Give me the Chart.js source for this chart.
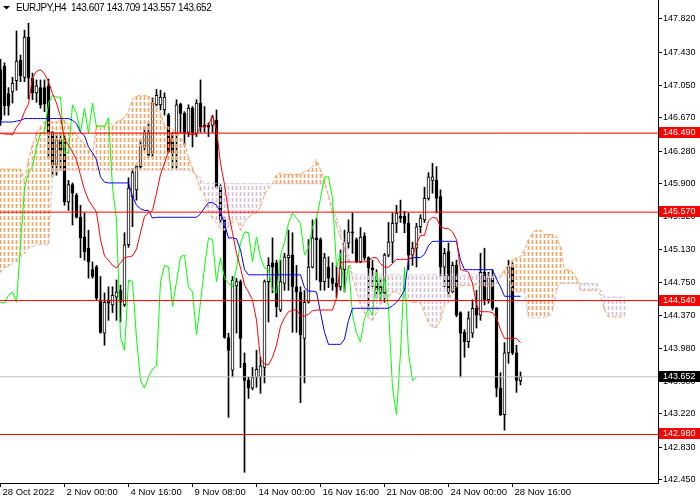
<!DOCTYPE html>
<html><head><meta charset="utf-8">
<style>html,body{margin:0;padding:0;background:#fff;overflow:hidden}canvas{display:block}</style>
<script src="https://cdn.jsdelivr.net/npm/chart.js@4.4.1/dist/chart.umd.min.js"></script>
</head><body>
<canvas id="c" width="700" height="500"></canvas>
<script>
const symbolTitle = "EURJPY,H4";
const openP = [147.23,147.27,146.95,146.97,147.10,147.34,147.14,147.61,147.13,146.96,
147.02,147.02,147.04,146.50,146.12,146.41,146.43,145.69,145.89,145.77,
145.51,145.28,145.15,144.90,144.93,144.55,144.16,144.55,144.49,144.58,
144.66,144.49,145.19,145.75,145.83,146.10,146.33,146.24,146.26,146.82,
146.82,146.76,146.70,146.39,146.49,146.83,146.72,146.50,146.78,146.49,
146.84,146.56,146.58,146.58,146.64,145.86,145.48,144.11,143.73,144.71,
144.76,143.81,143.61,143.52,143.65,143.65,143.76,144.76,144.98,144.98,
144.43,144.74,145.04,145.07,144.70,144.64,144.10,144.52,144.93,145.27,
145.25,144.76,144.93,144.80,144.74,144.70,144.90,145.21,145.34,145.25,
144.99,145.29,145.04,144.92,144.82,144.70,144.63,145.07,145.22,145.44,
145.52,145.52,145.44,145.07,145.15,145.40,145.48,145.73,145.94,145.94,
145.75,144.93,145.11,144.64,144.95,144.40,144.17,144.06,144.16,144.45,
144.37,144.87,144.55,144.80,144.45,143.52,143.21,143.93,144.93,143.93,
143.607];
const highP = [147.35,147.31,147.02,147.14,147.68,147.40,147.69,147.77,147.19,147.11,
147.11,147.11,147.12,146.51,146.50,146.50,146.47,145.94,145.91,145.79,
145.65,145.56,145.36,144.99,144.95,144.82,144.63,144.70,144.70,144.78,
144.72,145.33,145.97,146.08,146.12,146.41,146.56,146.61,146.90,147.00,
146.99,146.96,146.72,146.49,146.88,146.84,146.74,146.82,146.80,146.88,
147.11,146.80,146.61,146.70,146.76,145.89,145.51,144.16,144.82,144.80,
144.78,143.93,143.65,143.76,143.96,143.88,144.78,145.04,145.27,145.01,
145.01,145.09,145.36,145.33,144.95,144.70,144.66,145.25,145.48,145.50,
145.27,145.09,145.05,144.98,144.95,145.13,145.36,145.48,145.56,145.27,
145.39,145.33,145.05,145.01,144.90,144.80,145.09,145.45,145.56,145.65,
145.71,145.58,145.56,145.22,145.44,145.54,145.86,146.03,146.14,146.10,
145.83,145.15,145.21,144.99,145.01,144.41,144.20,144.41,144.55,144.66,
145.09,145.15,144.87,144.90,144.46,143.70,144.05,145.01,144.98,144.02,
143.709];
const lowP = [146.58,146.70,146.70,146.84,146.99,147.09,147.09,146.89,146.88,146.85,
146.78,146.74,146.20,145.98,146.00,146.06,145.65,145.59,145.42,145.50,
145.04,145.01,144.80,144.80,144.55,144.16,144.02,144.31,144.40,144.31,
144.29,144.47,145.16,145.40,145.71,146.08,146.29,146.21,146.21,146.81,
146.76,146.70,146.26,146.08,146.08,146.50,146.35,146.45,146.33,146.45,
146.50,146.50,146.45,146.50,145.85,145.44,144.10,143.18,143.65,144.16,
143.76,142.54,143.40,143.50,143.53,143.46,143.58,144.29,144.63,144.35,
144.41,144.66,144.66,144.17,144.17,143.35,143.58,144.51,144.92,144.78,
144.66,144.66,144.69,144.66,144.58,144.66,144.64,145.15,145.09,144.98,
144.98,145.01,144.43,144.70,144.57,144.52,144.52,145.05,144.98,145.33,
145.45,145.33,144.90,144.95,144.93,145.33,145.45,145.71,145.79,145.56,
144.82,144.70,144.58,144.63,144.35,143.65,143.88,143.99,144.11,144.22,
144.31,144.49,144.51,144.43,143.42,143.20,143.03,143.81,143.91,143.47,
143.557];
const closeP = [146.64,146.81,146.81,147.07,147.33,147.16,147.61,147.13,146.96,147.04,
146.82,146.83,146.50,146.12,146.41,146.29,145.69,145.89,145.79,145.51,
145.27,145.11,144.99,144.82,144.57,144.17,144.52,144.51,144.60,144.64,
144.52,145.19,145.85,146.03,146.10,146.33,146.49,146.50,146.84,146.93,
146.91,146.91,146.27,146.26,146.82,146.72,146.50,146.78,146.49,146.84,
146.56,146.58,146.56,146.67,145.86,145.48,144.11,143.96,144.78,144.76,
144.10,143.61,143.52,143.65,143.74,143.78,144.76,144.95,144.93,144.47,
144.76,145.05,145.07,144.70,144.64,144.14,144.52,144.93,145.27,145.25,
144.76,145.04,144.80,144.74,144.70,144.92,145.21,145.34,145.33,144.99,
145.28,145.04,144.92,144.90,144.66,144.63,145.07,145.22,145.44,145.56,
145.50,145.44,145.07,145.15,145.40,145.50,145.73,145.98,145.98,145.73,
144.93,145.09,144.64,144.95,144.37,144.16,144.06,144.33,144.45,144.37,
144.87,144.55,144.80,144.45,143.52,143.21,143.93,144.93,143.93,143.61,
143.652];
const tenkan = [146.49,146.48,146.48,146.47,146.56,146.62,146.74,146.83,147.14,147.21,
147.23,147.18,147.09,146.95,146.84,146.68,146.42,146.35,146.27,146.18,
146.00,145.83,145.71,145.64,145.57,145.25,145.06,145.01,144.95,144.92,
144.98,145.04,145.05,145.06,145.14,145.33,145.52,145.56,145.59,145.79,
146.01,146.14,146.28,146.50,146.49,146.49,146.49,146.48,146.47,146.48,
146.56,146.57,146.58,146.70,146.53,146.14,145.89,145.56,145.33,145.09,
144.92,144.72,144.64,144.55,144.31,143.85,143.80,143.79,143.88,144.02,
144.24,144.34,144.41,144.43,144.43,144.36,144.36,144.38,144.42,144.43,
144.43,144.43,144.43,144.43,144.57,144.98,144.99,144.99,144.99,144.99,
144.99,144.99,145.00,145.04,145.04,144.97,144.93,144.93,144.97,145.02,
145.02,145.02,145.02,145.05,145.20,145.30,145.30,145.47,145.51,145.50,
145.40,145.38,145.38,145.34,145.25,144.90,144.89,144.87,144.74,144.49,
144.41,144.41,144.41,144.40,144.34,144.20,144.10,144.10,144.10,144.10,
144.05];
const kijun = [146.62,146.62,146.62,146.62,146.63,146.64,146.66,146.66,146.66,146.66,
146.66,146.66,146.66,146.66,146.66,146.66,146.66,146.66,146.64,146.60,
146.50,146.46,146.33,146.26,146.18,145.98,145.92,145.91,145.91,145.91,
145.91,145.91,145.91,145.76,145.65,145.61,145.59,145.59,145.50,145.51,
145.51,145.51,145.51,145.51,145.51,145.51,145.51,145.51,145.51,145.51,
145.55,145.62,145.68,145.68,145.65,145.57,145.43,145.27,145.27,145.26,
145.13,144.90,144.84,144.84,144.84,144.84,144.84,144.84,144.84,144.84,
144.84,144.84,144.84,144.84,144.84,144.84,144.69,144.65,144.65,144.64,
144.40,144.17,144.03,144.03,144.03,144.03,144.09,144.31,144.45,144.45,
144.45,144.45,144.45,144.45,144.45,144.45,144.45,144.45,144.48,144.52,
144.58,144.66,145.02,145.04,145.04,145.04,145.08,145.18,145.23,145.23,
145.23,145.23,145.23,145.23,145.23,145.01,144.90,144.90,144.90,144.90,
144.90,144.90,144.90,144.90,144.79,144.70,144.59,144.59,144.59,144.59,
144.59];
const spanA = [146.07,146.07,146.07,146.07,146.07,146.07,145.92,146.18,146.35,146.49,
146.56,146.62,146.62,146.62,146.62,146.64,146.64,146.58,146.53,146.47,
146.41,146.37,146.29,146.23,146.58,146.56,146.58,146.61,146.58,146.62,
146.64,146.67,146.74,146.88,146.92,146.93,146.93,146.92,146.88,146.79,
146.72,146.58,146.56,146.53,146.50,146.44,146.37,146.21,146.08,145.97,
145.83,145.77,145.59,145.50,145.45,145.38,145.36,145.40,145.45,145.50,
145.36,145.45,145.51,145.55,145.56,145.63,145.77,145.85,145.90,146.00,
146.03,146.01,146.01,146.01,146.01,146.01,146.04,146.06,146.10,146.18,
146.06,145.94,145.75,145.56,145.42,145.28,145.13,144.99,144.80,144.66,
144.49,144.40,144.34,144.31,144.40,144.49,144.55,144.58,144.64,144.64,
144.61,144.57,144.54,144.52,144.52,144.51,144.40,144.28,144.23,144.23,
144.31,144.49,144.52,144.66,144.70,144.71,144.72,144.72,144.72,144.73,
144.72,144.71,144.70,144.71,144.74,144.82,144.90,144.95,145.01,145.04,
145.05,145.13,145.25,145.33,145.36,145.36,145.31,145.31,145.31,145.28,
145.16,144.90,144.90,144.87,144.80,144.66,144.66,144.66,144.66,144.66,
144.61,144.43,144.35,144.35,144.35,144.35,144.35];
const spanB = [144.87,144.92,144.94,144.97,144.99,145.04,145.09,145.15,145.17,145.19,
145.19,145.19,145.19,145.98,146.04,146.06,146.06,146.06,146.06,146.06,
146.06,146.06,146.06,146.06,146.06,146.06,146.06,146.06,146.06,146.06,
146.06,146.06,146.06,146.06,146.06,146.06,146.06,146.06,146.06,146.06,
146.06,146.06,146.06,146.06,146.06,146.06,146.06,146.06,146.04,146.00,
145.97,145.90,145.90,145.90,145.90,145.90,145.90,145.90,145.90,145.90,
145.90,145.90,145.90,145.90,145.90,145.90,145.90,145.90,145.90,145.90,
145.90,145.90,145.90,145.90,145.90,145.90,145.90,145.90,145.90,145.90,
145.90,145.90,145.77,145.63,145.50,145.38,145.22,145.07,144.84,144.84,
144.84,144.84,144.84,144.84,144.84,144.84,144.84,144.84,144.84,144.84,
144.84,144.84,144.84,144.84,144.84,144.84,144.84,144.84,144.84,144.84,
144.84,144.84,144.84,144.84,144.84,144.84,144.84,144.84,144.84,144.84,
144.84,144.84,144.84,144.84,144.84,144.84,144.83,144.83,144.66,144.64,
144.64,144.64,144.34,144.34,144.34,144.34,144.35,144.35,144.41,144.66,
144.74,144.74,144.74,144.74,144.74,144.74,144.74,144.74,144.74,144.74,
144.66,144.58,144.58,144.58,144.58,144.58,144.58];
const chikouShift = 26;
const levels = [146.490, 145.570, 144.540, 142.980];
const bidPrice = 143.652;
const yTicks = [142.450,142.830,143.220,143.600,143.980,144.370,144.750,145.130,145.520,145.900,146.280,146.670,147.050,147.430,147.820];
const xTickPos = [0,16,32,48,64,80,96,112,128];
const xTickLabels = ["28 Oct 2022","2 Nov 00:00","4 Nov 16:00","9 Nov 08:00","14 Nov 00:00","16 Nov 16:00","21 Nov 08:00","24 Nov 00:00","28 Nov 16:00"];

const X_MIN = -0.125, X_MAX = 164.375;
const Y_MIN = 142.415, Y_MAX = 148.041;
const FONT = '"Liberation Sans", Arial, sans-serif';

const canvas = document.getElementById('c');
const mainCtx = canvas.getContext('2d');
function makeDash(color){
  const c = document.createElement('canvas'); c.width = 1; c.height = 6;
  const g = c.getContext('2d'); g.fillStyle = color; g.fillRect(0,0,1,4);
  return mainCtx.createPattern(c, 'repeat');
}
const orangeDash = makeDash('#f4a460');
const thistleDash = makeDash('#d8bfd8');

const wickData = lowP.map((l,i)=>({x:i, y:[l, highP[i]]}));
const bodyData = openP.map((o,i)=>({x:i, y:[o, closeP[i]]}));
const cloudData = spanA.map((a,i)=>({x:i, y:[a, spanB[i]]}));
const chikouData = closeP.slice(chikouShift).map((c,i)=>({x:i, y:c}));
const tenkanData = tenkan.map((v,i)=>({x:i,y:v}));
const kijunData = kijun.map((v,i)=>({x:i,y:v}));
const spanAData = spanA.map((v,i)=>({x:i,y:v}));
const spanBData = spanB.map((v,i)=>({x:i,y:v}));

function hLine(v, color){
  return {type:'line', data:[{x:X_MIN,y:v},{x:X_MAX,y:v}], borderColor:color, borderWidth:1, pointRadius:0, order:0};
}
function ln(data, color, dash, order){
  return {type:'line', data, borderColor:color, borderWidth:1, pointRadius:0, tension:0, borderDash:dash||[], order};
}

const overlay = {
  id:'overlay',
  afterDraw(chart){
    const ctx = chart.ctx, ys = chart.scales.y, area = chart.chartArea;
    ctx.save();
    ctx.font = '9px ' + FONT;
    ctx.textBaseline = 'middle';
    ctx.textAlign = 'left';
    const box = (v, bg) => {
      const y = Math.round(ys.getPixelForValue(v));
      ctx.fillStyle = bg; ctx.fillRect(area.right + 1, y - 6, 42, 11);
      ctx.fillStyle = '#ffffff'; ctx.fillText(v.toFixed(3), area.right + 5, y);
    };
    levels.forEach(v => box(v, '#ff0000'));
    box(bidPrice, '#000000');
    ctx.fillStyle = '#000';
    ctx.beginPath(); ctx.moveTo(3,6); ctx.lineTo(10,6); ctx.lineTo(6.5,9.5); ctx.closePath(); ctx.fill();
    ctx.font = '10px ' + FONT;
    try { ctx.letterSpacing = '-0.4px'; } catch(e) {}
    ctx.textBaseline = 'alphabetic';
    const n = closeP.length - 1;
    const t = symbolTitle + '  ' + openP[n].toFixed(3) + ' ' + highP[n].toFixed(3) + ' ' + lowP[n].toFixed(3) + ' ' + closeP[n].toFixed(3);
    ctx.fillText(t, 16, 11);
    ctx.restore();
  }
};

new Chart(canvas, {
  type: 'bar',
  data: {
    datasets: [
      ...levels.map(v => hLine(v, '#ff0000')),
      hLine(bidPrice, '#c0c0c0'),
      ln(tenkanData, '#ff0000', null, 1),
      ln(kijunData, '#0000ff', null, 1),
      ln(chikouData, '#00ff00', null, 1),
      ln(spanAData, '#f4a460', [4,2], 2),
      ln(spanBData, '#d8bfd8', [4,2], 2),
      {type:'bar', data: cloudData, grouped:false, barThickness:1, maxBarThickness:1, borderWidth:0,
        backgroundColor: (c) => { const i = c.dataIndex; if (i === undefined) return orangeDash; return spanA[i] >= spanB[i] ? orangeDash : thistleDash; }, order:3},
      {type:'bar', data: bodyData, grouped:false, barThickness:3, maxBarThickness:3, borderWidth:1, borderSkipped:false, borderColor:'#000', minBarLength:1,
        backgroundColor: (c) => { const i = c.dataIndex; if (i === undefined) return '#000'; return closeP[i] >= openP[i] ? '#ffffff' : '#000000'; }, order:4},
      {type:'bar', data: wickData, grouped:false, barThickness:1, maxBarThickness:1, borderWidth:0, backgroundColor:'#000', order:5}
    ]
  },
  options: {
    responsive:false, animation:false, events:[],
    layout:{padding:0},
    plugins:{legend:{display:false}, tooltip:{enabled:false}},
    scales:{
      x:{type:'linear', position:'bottom', min:X_MIN, max:X_MAX, bounds:'data', offset:false,
        grid:{display:true, drawOnChartArea:false, drawTicks:true, tickLength:4, color:'#000', offset:false},
        border:{display:true, color:'#000', width:1},
        ticks:{autoSkip:false, maxRotation:0, minRotation:0, align:'start', labelOffset:2, padding:0, color:'#000', font:{family:FONT, size:9.5},
          callback:(v)=>{ const k = xTickPos.indexOf(v); return k >= 0 ? xTickLabels[k] : ''; }},
        afterBuildTicks:(s)=>{ s.ticks = xTickPos.map(v=>({value:v})); },
        afterFit:(s)=>{ s.height = 17; s.paddingLeft = 0; s.paddingRight = 0; }
      },
      y:{type:'linear', position:'right', min:Y_MIN, max:Y_MAX, bounds:'data',
        grid:{display:true, drawOnChartArea:false, drawTicks:true, tickLength:4, color:'#000'},
        border:{display:true, color:'#000', width:1},
        ticks:{autoSkip:false, padding:1, color:'#000', font:{family:FONT, size:9}, callback:(v)=>Number(v).toFixed(3)},
        afterBuildTicks:(s)=>{ s.ticks = yTicks.map(v=>({value:v})); },
        afterFit:(s)=>{ s.width = 42; s.paddingTop = 0; s.paddingBottom = 0; }
      }
    }
  },
  plugins:[overlay]
});
</script>
</body></html>
